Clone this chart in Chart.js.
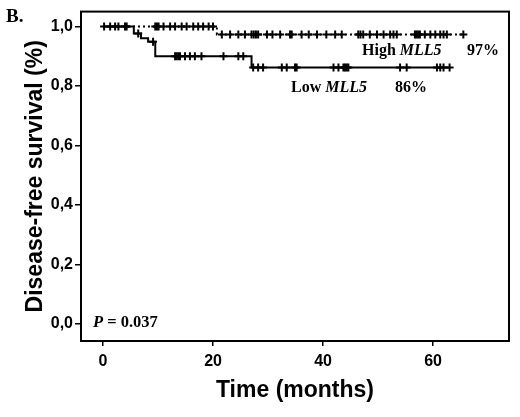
<!DOCTYPE html>
<html>
<head>
<meta charset="utf-8">
<script src="https://cdn.jsdelivr.net/npm/chart.js@4.4.1/dist/chart.umd.min.js"></script>
<style>
html,body{margin:0;padding:0;background:#fff;}
canvas{display:block;}
</style>
</head>
<body>
<canvas id="c" width="520" height="417"></canvas>
<script>
// Kaplan-Meier step data (months, survival proportion)
const highTimes = [0, 20.7, 65.5];
const highSurv  = [1.0, 0.973, 0.973];
const lowTimes  = [0, 5.6, 6.9, 8.2, 9.5, 27.0, 63.0];
const lowSurv   = [1.0, 0.976, 0.960, 0.949, 0.900, 0.862, 0.862];

// censored observations, grouped by the survival level they sit on
const highCensorLevels = [1.0, 0.973];
const highCensorTimes = [
  [0.2, 1.3, 2.2, 2.8, 4.0, 4.3, 9.5, 9.8, 10.1, 11.0, 12.2, 13.1, 14.3, 15.2, 16.4, 17.3, 18.2, 19.2, 20.0],
  [21.6, 23.1, 24.6, 25.8, 27.0, 27.4, 27.8, 28.2, 29.8, 30.8, 32.2, 34.0, 34.3, 36.1, 37.4, 38.9, 40.6, 42.2, 43.4,
   46.4, 46.8, 47.3, 48.5, 49.8, 51.0, 52.2, 52.8, 53.4, 56.7, 57.0, 57.3, 57.6, 58.5, 59.5, 60.4, 61.3, 61.9, 62.5, 65.5]
];
const lowCensorLevels = [0.976, 0.949, 0.900, 0.862];
const lowCensorTimes = [
  [6.4],
  [9.1],
  [13.1, 13.4, 13.7, 14.0, 14.9, 15.8, 16.7, 17.9, 21.9, 24.6, 25.5],
  [27.3, 28.2, 29.1, 32.5, 33.4, 34.9, 35.2, 41.9, 42.8, 43.7, 44.0, 44.3, 44.6, 54.0, 55.2, 60.7, 61.3, 61.9, 63.0]
];

const xTicks = [0, 20, 40, 60];
const yTicks = [0, 0.2, 0.4, 0.6, 0.8, 1.0];
const xLabel = 'Time (months)';
const yLabel = 'Disease-free survival (%)';

const toPts = (xs, ys) => xs.map((x, i) => ({x: x, y: ys[i]}));
const censorPts = (levels, groups) => {
  const out = [];
  groups.forEach((g, i) => g.forEach(t => out.push({x: t, y: levels[i]})));
  return out;
};

const SERIF = '"Liberation Serif", "Times New Roman", serif';
const SANS = '"Liberation Sans", Arial, sans-serif';

const extras = {
  id: 'extras',
  afterDraw(chart) {
    const {ctx, chartArea: a} = chart;
    ctx.save();
    ctx.strokeStyle = '#000';
    ctx.lineWidth = 2;
    ctx.strokeRect(a.left, a.top, a.right - a.left, a.bottom - a.top);
    ctx.fillStyle = '#000';
    ctx.textBaseline = 'alphabetic';
    ctx.textAlign = 'left';
    const draw = (parts, x, y, size) => {
      let cx = x;
      parts.forEach(p => {
        ctx.font = p[1] + ' ' + (size || 16) + 'px ' + SERIF;
        ctx.fillText(p[0], cx, y);
        cx += ctx.measureText(p[0]).width;
      });
    };
    draw([['High ', 'bold'], ['MLL5', 'italic bold']], 362, 55);
    draw([['97%', 'bold']], 467, 55);
    draw([['Low ', 'bold'], ['MLL5', 'italic bold']], 291, 92);
    draw([['86%', 'bold']], 395, 92);
    draw([['P', 'italic bold'], [' = 0.037', 'bold']], 93, 327, 16.5);
    draw([['B.', 'bold']], 6, 22, 19);
    ctx.restore();
  }
};

new Chart(document.getElementById('c'), {
  type: 'line',
  data: {
    datasets: [
      {
        label: 'High MLL5',
        data: toPts(highTimes, highSurv),
        stepped: 'before',
        borderColor: '#000',
        borderWidth: 2,
        borderDash: [2, 3],
        pointRadius: 0,
        fill: false
      },
      {
        label: 'Low MLL5',
        data: toPts(lowTimes, lowSurv),
        stepped: 'before',
        borderColor: '#000',
        borderWidth: 2,
        pointRadius: 0,
        fill: false
      },
      {
        type: 'scatter',
        label: 'High censored',
        data: censorPts(highCensorLevels, highCensorTimes),
        showLine: false,
        pointStyle: 'cross',
        pointRadius: 4,
        pointBorderWidth: 2,
        pointBorderColor: '#000',
        pointBackgroundColor: '#000'
      },
      {
        type: 'scatter',
        label: 'Low censored',
        data: censorPts(lowCensorLevels, lowCensorTimes),
        showLine: false,
        pointStyle: 'cross',
        pointRadius: 4,
        pointBorderWidth: 2,
        pointBorderColor: '#000',
        pointBackgroundColor: '#000'
      }
    ]
  },
  options: {
    responsive: false,
    animation: false,
    events: [],
    layout: {padding: {top: 11, right: 11, left: 0, bottom: 0}},
    plugins: {legend: {display: false}, tooltip: {enabled: false}},
    scales: {
      x: {
        type: 'linear',
        min: -4,
        max: 73.8,
        afterBuildTicks: s => { s.ticks = xTicks.map(v => ({value: v})); },
        afterFit: s => { s.height = 76; },
        grid: {drawOnChartArea: false, drawTicks: true, tickLength: 5, color: '#000', lineWidth: 1.5},
        border: {display: false},
        ticks: {color: '#000', font: {family: SANS, size: 16, weight: 'bold'}, padding: 6, maxRotation: 0},
        title: {display: true, text: xLabel, color: '#000', font: {family: SANS, size: 23, weight: 'bold'}, padding: {top: 0, bottom: 13}}
      },
      y: {
        type: 'linear',
        min: -0.058,
        max: 1.05,
        afterBuildTicks: s => { s.ticks = yTicks.map(v => ({value: v})); },
        afterFit: s => { s.width = 81; },
        grid: {drawOnChartArea: false, drawTicks: true, tickLength: 6, color: '#000', lineWidth: 1.5},
        border: {display: false},
        ticks: {color: '#000', font: {family: SANS, size: 16, weight: 'bold'}, padding: 2,
          callback: v => v.toFixed(1).replace('.', ',')},
        title: {display: true, text: yLabel, color: '#000', font: {family: SANS, size: 23, weight: 'bold'}, padding: {top: 22, bottom: 0}}
      }
    }
  },
  plugins: [extras]
});
</script>
</body>
</html>
